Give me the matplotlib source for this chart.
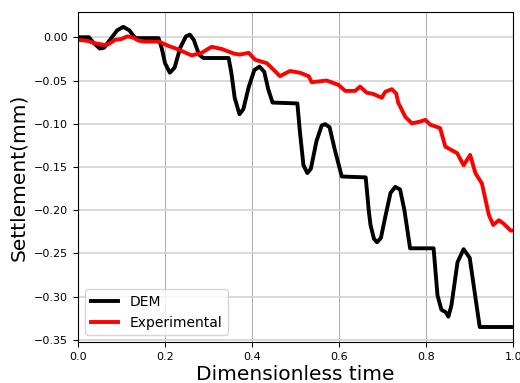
import matplotlib
matplotlib.use("Agg")
import matplotlib.pyplot as plt

dem_x = [0.0, 0.025, 0.035, 0.05, 0.06, 0.075, 0.09, 0.104, 0.118, 0.13, 0.135, 0.185,
         0.192, 0.2, 0.211, 0.222, 0.235, 0.248, 0.257, 0.266, 0.278, 0.288, 0.346,
         0.352, 0.36, 0.371, 0.38, 0.392, 0.405, 0.417, 0.428, 0.437, 0.447, 0.504,
         0.51, 0.518, 0.527, 0.535, 0.548, 0.56, 0.568, 0.578, 0.59, 0.606, 0.661,
         0.668, 0.672, 0.68, 0.687, 0.696, 0.705, 0.718, 0.729, 0.74, 0.75, 0.763,
         0.817, 0.826, 0.835, 0.845, 0.851, 0.858, 0.872, 0.886, 0.9, 0.91, 0.923, 1.0]
dem_y = [0.0, 0.0, -0.006, -0.013, -0.012, -0.002, 0.008, 0.012, 0.008, 0.0, -0.001, -0.001,
         -0.012, -0.03, -0.041, -0.035, -0.012, 0.001, 0.003, -0.003, -0.02, -0.024, -0.024,
         -0.04, -0.07, -0.089, -0.083, -0.058, -0.038, -0.034, -0.04, -0.06, -0.0755, -0.0765,
         -0.11, -0.148, -0.157, -0.152, -0.12, -0.102, -0.1005, -0.104, -0.13, -0.161, -0.162,
         -0.2, -0.217, -0.233, -0.237, -0.232, -0.21, -0.18, -0.173, -0.176, -0.2, -0.244,
         -0.244, -0.2985, -0.315, -0.318, -0.323, -0.31, -0.26, -0.245, -0.255, -0.29, -0.335, -0.335]

exp_x = [0.0, 0.02, 0.04, 0.062, 0.07, 0.085, 0.1, 0.113, 0.125, 0.14, 0.155, 0.185,
         0.208, 0.23, 0.261, 0.284, 0.307, 0.33, 0.359, 0.372, 0.392, 0.407, 0.434,
         0.464, 0.487, 0.51, 0.53, 0.537, 0.571, 0.598, 0.614, 0.637, 0.648, 0.663,
         0.678, 0.698, 0.706, 0.721, 0.731, 0.736, 0.752, 0.767, 0.786, 0.798, 0.809,
         0.832, 0.844, 0.871, 0.886, 0.901, 0.913, 0.928, 0.944, 0.954, 0.967, 0.978,
         0.994, 1.0]
exp_y = [-0.003, -0.004, -0.007, -0.009, -0.008, -0.003, -0.002, 0.001, 0.0, -0.004, -0.005, -0.005,
         -0.01, -0.014, -0.021, -0.018, -0.011, -0.0135, -0.019, -0.02, -0.018, -0.026, -0.03,
         -0.045, -0.039, -0.041, -0.045, -0.052, -0.05, -0.055, -0.062, -0.062, -0.057, -0.064,
         -0.0655, -0.07, -0.063, -0.06, -0.065, -0.076, -0.092, -0.0995, -0.0975, -0.0955, -0.101,
         -0.105, -0.1265, -0.134, -0.148, -0.136, -0.157, -0.169, -0.2055, -0.217, -0.2115, -0.2155,
         -0.2235, -0.2235]

fig = plt.figure(figsize=(5.2, 3.83), dpi=100)
ax = fig.add_axes([0.15, 0.107, 0.837, 0.862])
ax.plot(dem_x, dem_y, color='black', lw=2.8, label='DEM')
ax.plot(exp_x, exp_y, color='red', lw=2.8, label='Experimental')
ax.set_xlim(0, 1.0)
ax.set_yticks([0.0, -0.05, -0.10, -0.15, -0.20, -0.25, -0.30, -0.35])
ax.xaxis.grid(True, color='#b0b0b0', lw=0.8)
ax.yaxis.grid(True, color='#d3d3d3', lw=1.2)
ax.set_axisbelow(True)
ax.tick_params(labelsize=8)
ax.set_xlabel('Dimensionless time', fontsize=14.5, labelpad=2)
ax.set_ylabel('Settlement(mm)', fontsize=14.5, labelpad=4)
ax.legend(loc='lower left', fontsize=10, handlelength=2.0)
fig.savefig('out.png', dpi=100)
